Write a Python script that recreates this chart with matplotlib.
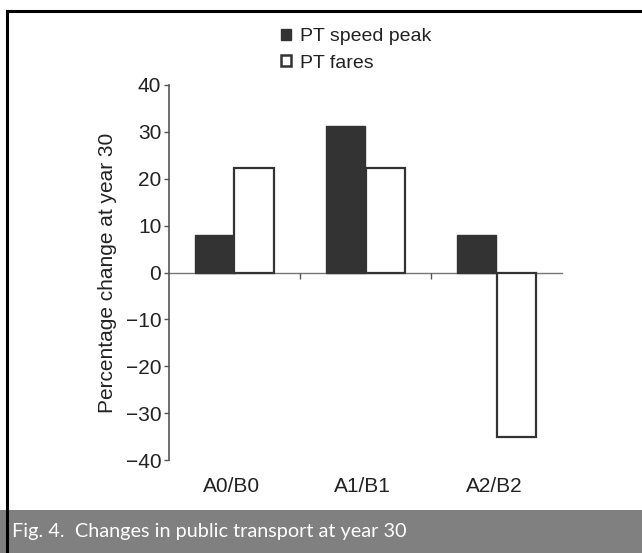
import matplotlib
matplotlib.use("Agg")
import matplotlib.pyplot as plt
from matplotlib.patches import Rectangle, Patch
from matplotlib.lines import Line2D
import numpy as np

categories = ["A0/B0", "A1/B1", "A2/B2"]
speed_peak = [8, 31.3, 8]
fares = [22.3, 22.3, -35]
series_names = ["PT speed peak", "PT fares"]
yticks = [-40, -30, -20, -10, 0, 10, 20, 30, 40]
ylabel = "Percentage change at year 30"
caption = "Fig. 4.  Changes in public transport at year 30"

W, H = 642, 553
plt.rcParams['font.family'] = ['Liberation Sans', 'DejaVu Sans']
fig = plt.figure(figsize=(W / 100, H / 100), dpi=100)

ax = fig.add_axes([169 / W, 1 - 460 / H, (562 - 169) / W, (460 - 85) / H])
x = np.arange(len(categories))
bw = 0.30
dark = "#333333"
ax.bar(x - bw / 2, speed_peak, width=bw, color=dark, edgecolor=dark, linewidth=1.0)
ax.bar(x + bw / 2, fares, width=bw, color="white", edgecolor=dark, linewidth=1.6)

ax.set_xlim(-0.5, len(categories) - 0.5)
ax.set_ylim(-40, 40)
ax.set_yticks(yticks)
ax.tick_params(axis='y', length=3.5, width=1, color="#555555", labelsize=15,
               labelcolor="#222222", pad=2)
for s in ["top", "right"]:
    ax.spines[s].set_visible(False)
ax.spines["left"].set_color("#555555")
ax.spines["left"].set_linewidth(1.2)
ax.spines["bottom"].set_position(("data", 0))
ax.spines["bottom"].set_color("#777777")
ax.spines["bottom"].set_linewidth(1.0)
ax.spines["bottom"].set_zorder(0.5)
ax.set_xticks(x)
ax.set_xticklabels([])
ax.tick_params(axis='x', which='major', length=0)
ax.set_xticks(x[:-1] + 0.5, minor=True)
ax.tick_params(axis='x', which='minor', length=4, width=1, color="#555555", direction='out')

trans = ax.get_xaxis_transform()
for xi, lab in zip(x, categories):
    ax.text(xi - 0.02, -0.072, lab, transform=trans, ha='center', va='center',
            fontsize=15, color="#222222")

ax.set_ylabel(ylabel, fontsize=15, color="#222222", labelpad=6)

handles = [Patch(facecolor=dark, edgecolor=dark, linewidth=1.0),
           Patch(facecolor="white", edgecolor=dark, linewidth=1.8)]
fig.legend(handles, series_names, loc='upper left', bbox_to_anchor=(281 / W, 1 - 28 / H),
           frameon=False, fontsize=14, handlelength=0.5, handleheight=0.5,
           handletextpad=0.5, borderpad=0, labelspacing=0.5, borderaxespad=0,
           labelcolor="#222222")

# caption band and frame
fig.add_artist(Rectangle((0, 0), 1, (H - 510) / H, transform=fig.transFigure,
                         facecolor="#808080", edgecolor="none", zorder=0))
fig.text(12 / W, 1 - 531 / H, caption, ha='left', va='center', color='white',
         fontsize=14.3, family=['Lato', 'DejaVu Sans'])
fig.add_artist(Line2D([6.5 / W, 6.5 / W], [0, 1 - 11 / H], transform=fig.transFigure,
                      color='black', linewidth=2.2))
fig.add_artist(Line2D([6.5 / W, 1], [1 - 11 / H, 1 - 11 / H], transform=fig.transFigure,
                      color='black', linewidth=2.2))

fig.savefig("out.png", dpi=100)
